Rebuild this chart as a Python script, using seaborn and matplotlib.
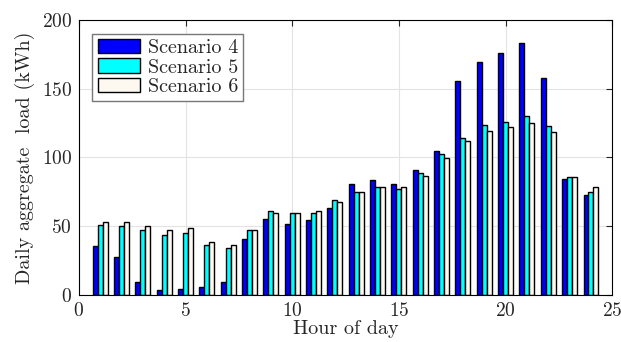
import matplotlib
matplotlib.use("Agg")
import matplotlib.pyplot as plt
import pandas as pd
import seaborn as sns

# Hourly aggregate load (kWh)
hours = list(range(1, 25))
scenario_4 = [35.4, 27.8, 9.8, 3.4, 4.4, 5.6, 9.8, 40.7, 55.3, 51.4, 54.6, 63.5,
              80.6, 83.5, 80.6, 91.0, 104.8, 155.7, 169.5, 175.8, 183.0, 157.6, 84.7, 73.1]
scenario_5 = [51.2, 50.0, 47.0, 43.6, 44.9, 36.3, 34.1, 47.0, 61.0, 59.7, 59.7, 69.0,
              75.0, 78.2, 77.0, 88.9, 102.7, 114.3, 123.7, 125.9, 130.0, 122.8, 85.5, 75.0]
scenario_6 = [53.4, 53.4, 50.0, 47.0, 49.0, 38.3, 36.3, 47.0, 59.7, 59.7, 61.0, 68.0,
              75.0, 78.2, 78.2, 86.7, 99.3, 112.1, 119.6, 121.8, 125.0, 118.6, 85.5, 78.2]
scenarios = ["Scenario 4", "Scenario 5", "Scenario 6"]
colors = ["#0000ff", "#00ffff", "#fdf8f0"]

df = pd.DataFrame({
    "hour": hours * 3,
    "load": scenario_4 + scenario_5 + scenario_6,
    "scenario": [s for s in scenarios for _ in hours],
})

sns.set_style("white")
plt.rcParams["font.family"] = ["cmr10", "DejaVu Serif"]
plt.rcParams["mathtext.fontset"] = "cm"
plt.rcParams["axes.formatter.use_mathtext"] = True

fig = plt.figure(figsize=(6.21, 3.42), dpi=100)
ax = fig.add_axes([0.127, 0.137, 0.859, 0.805])

sns.barplot(data=df, x="hour", y="load", hue="scenario", hue_order=scenarios,
            palette=colors, native_scale=True, width=0.7, edgecolor="black",
            linewidth=1.0, saturation=1, errorbar=None, ax=ax)

ax.set_xlim(0, 25)
ax.set_ylim(0, 200)
ax.set_xticks(range(0, 26, 5))
ax.set_yticks(range(0, 201, 50))
ax.grid(True, color="#e3e3e3", linewidth=0.8)
ax.set_axisbelow(True)
ax.tick_params(direction="in", top=True, right=True, length=4, labelsize=14, pad=5)
for s in ax.spines.values():
    s.set_color("black")
    s.set_linewidth(0.8)
ax.set_xlabel("Hour of day", fontsize=14.5, labelpad=0)
ax.set_ylabel("Daily aggregate  load (kWh)", fontsize=14.5, labelpad=5)

ax.legend(loc="upper left", bbox_to_anchor=(0.018, 0.962), fontsize=14.5,
          fancybox=False, edgecolor="#777777", framealpha=1,
          handlelength=2.1, handleheight=0.7, labelspacing=0.05,
          borderpad=0.25, handletextpad=0.4, borderaxespad=0.2)

fig.savefig("out.png", dpi=100)
